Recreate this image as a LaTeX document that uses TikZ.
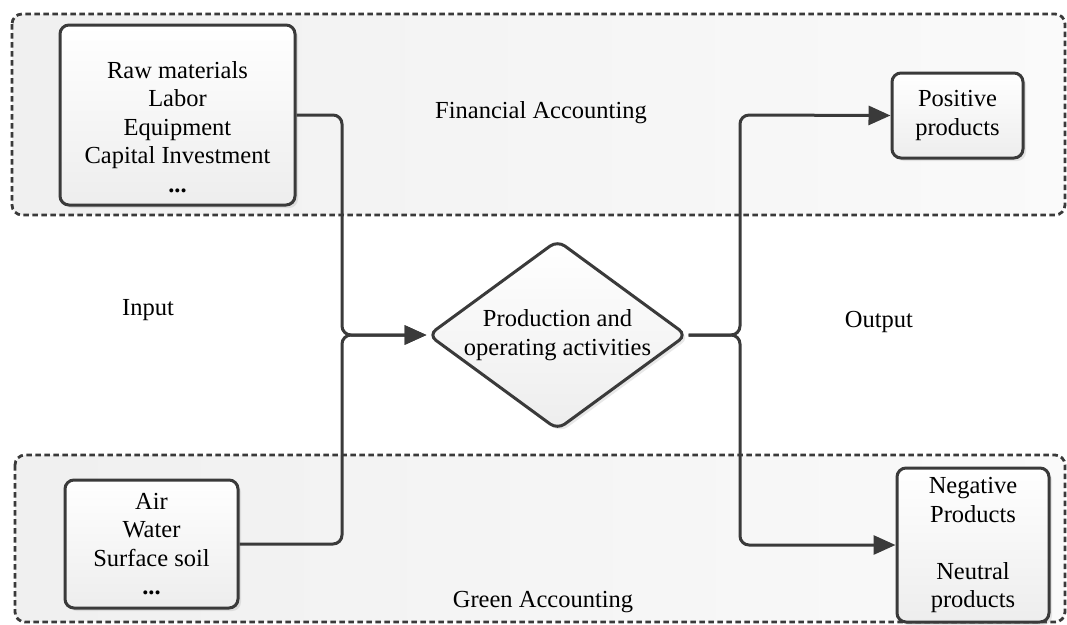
\documentclass[tikz,border=0pt]{standalone}
\usepackage{fontspec}
\setmainfont{Liberation Serif}
\newfontfamily\tms{Liberation Serif}
\usetikzlibrary{arrows.meta,shapes.geometric,shadows}
\definecolor{ln}{HTML}{3A3A3A}
\begin{document}
\begin{tikzpicture}[x=1pt,y=-1pt,
  region/.style={draw=ln, line width=2.8pt, dash pattern=on 5.5pt off 3.5pt, rounded corners=10pt, left color=black!6, right color=black!2},
  box/.style={draw=ln, line width=3pt, rounded corners=9pt, top color=white, bottom color=black!7,
    drop shadow={opacity=0.18, shadow xshift=3pt, shadow yshift=-3pt},
    align=center, font=\tms\fontsize{24.5}{28.5}\selectfont, inner sep=0pt},
  dia/.style={diamond, draw=ln, line width=3pt, rounded corners=9pt, top color=white, bottom color=black!7,
    drop shadow={opacity=0.18, shadow xshift=3pt, shadow yshift=-3pt},
    minimum width=259pt, minimum height=190pt, aspect=1.36, inner sep=0pt,
    align=center, font=\tms\fontsize{24.5}{29}\selectfont},
  txt/.style={align=center, font=\tms\fontsize{24.5}{28.5}\selectfont, inner sep=0pt},
  conn/.style={draw=ln, line width=3pt, rounded corners=9pt, -{Triangle[length=22pt,width=19pt]}},
]
\useasboundingbox[fill=white] (0,0) rectangle (1067,624);

% regions
\path[region] (12,14) rectangle (1065,215);
\path[region] (15,455) rectangle (1065,622);

% region / side labels
\node[txt] (fin) at (541,113) {Financial Accounting};
\node[txt] (green) at (543,602) {Green Accounting};
\node[txt] (input) at (148,310) {Input};
\node[txt] (output) at (879,322) {Output};

% nodes
\node[box, minimum width=235pt, minimum height=180pt] (raw) at (177.5,115) {};
\node[txt] (rawtxt) at (177.5,127) {Raw materials\\Labor\\Equipment\\Capital Investment\\\textbf{...}};
\node[box, minimum width=173pt, minimum height=128pt] (air) at (151.5,544) {Air\\Water\\Surface soil\\\textbf{...}};
\node[dia] (dia) at (557.5,335) {Production and\\operating activities};
\node[box, minimum width=131pt, minimum height=85pt] (pos) at (957.5,115.5) {Positive\\products};
\node[box, minimum width=152pt, minimum height=154pt] (neg) at (973,545) {Negative\\Products\\[28.5pt]Neutral\\products};

% connectors
\draw[conn] (raw.east) -- (342,115) -- (342,335) -- (dia.west);
\draw[conn] (air.east) -- (342,544) -- (342,335) -- (dia.west);
\draw[conn] (dia.east) -- (740,335) -- (740,115) -- (pos.west);
\draw[conn] (dia.east) -- (740,335) -- (740,545) -- (neg.west);
\end{tikzpicture}
\end{document}
